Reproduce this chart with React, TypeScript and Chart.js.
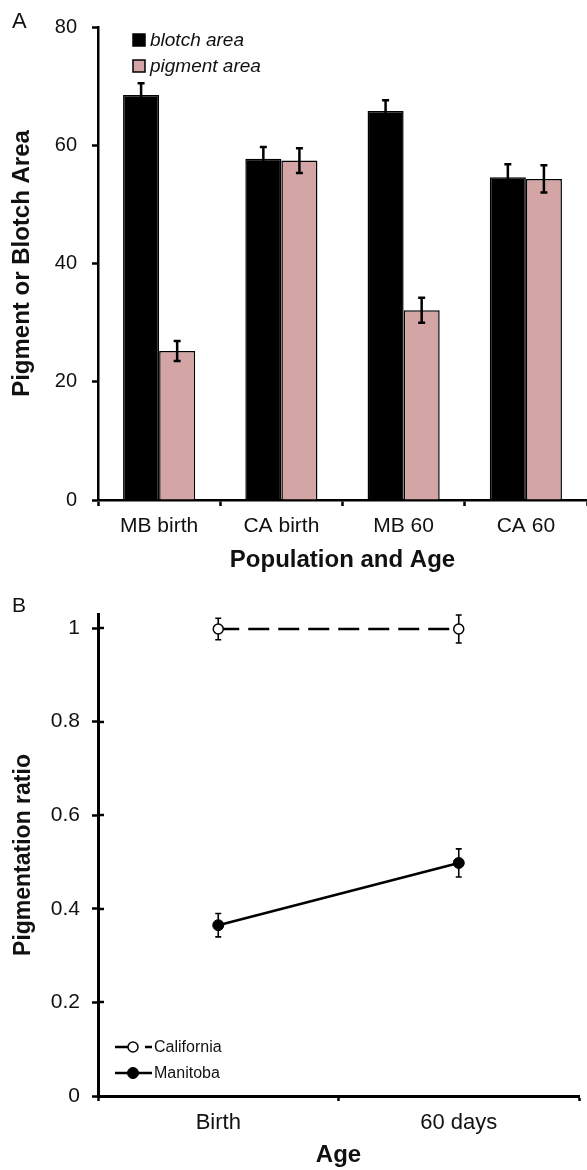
import React, { useEffect, useRef } from "react";
import { Chart, registerables } from "chart.js";

Chart.register(...registerables);

// ---------- Data ----------
const categoriesA = ["MB birth", "CA birth", "MB 60", "CA 60"];
const blotchArea = [68.5, 57.7, 65.8, 54.6];
const blotchErr = [2.0, 2.0, 1.8, 2.2];
const pigmentArea = [25.2, 57.4, 32.1, 54.3];
const pigmentErr = [1.7, 2.1, 2.1, 2.3];
const yTicksA = [0, 20, 40, 60, 80];

const categoriesB = ["Birth", "60 days"];
const california = [0.998, 0.998];
const californiaErr = [0.023, 0.03];
const manitoba = [0.365, 0.498];
const manitobaErr = [0.025, 0.03];
const yTicksB = [0, 0.2, 0.4, 0.6, 0.8, 1];

const FONT = "'Liberation Sans', Arial, Helvetica, sans-serif";
const INK = "#111";

// ---------- Plugins ----------
const errorBars = {
  id: "errorBars",
  beforeDatasetsDraw(chart: any, _a: any, opts: any) {
    if (!opts.behind) return;
    drawErrors(chart, opts);
  },
  afterDatasetsDraw(chart: any, _a: any, opts: any) {
    if (opts.behind) return;
    drawErrors(chart, opts);
  },
};

function drawErrors(chart: any, opts: any) {
  const ctx = chart.ctx;
  const yScale = chart.scales.y;
  chart.data.datasets.forEach((ds: any, i: number) => {
    const errs = ds.errors;
    if (!errs) return;
    const meta = chart.getDatasetMeta(i);
    meta.data.forEach((el: any, j: number) => {
      const v = ds.data[j];
      const e = errs[j];
      const x = el.x;
      const yt = yScale.getPixelForValue(v + e);
      const yb = yScale.getPixelForValue(v - e);
      ctx.save();
      ctx.strokeStyle = "#000";
      ctx.lineWidth = opts.width;
      ctx.beginPath();
      ctx.moveTo(x, yt);
      ctx.lineTo(x, yb);
      ctx.moveTo(x - opts.cap, yt);
      ctx.lineTo(x + opts.cap, yt);
      ctx.moveTo(x - opts.cap, yb);
      ctx.lineTo(x + opts.cap, yb);
      ctx.stroke();
      ctx.restore();
    });
  });
}

const boxLegend = {
  id: "boxLegend",
  afterDraw(chart: any, _a: any, opts: any) {
    const { ctx, chartArea } = chart;
    chart.data.datasets.forEach((ds: any, i: number) => {
      const cy = chartArea.top + opts.top + i * opts.rowGap;
      const bx = chartArea.left + opts.left;
      ctx.save();
      ctx.fillStyle = ds.backgroundColor;
      ctx.fillRect(bx, cy - opts.box / 2, opts.box, opts.box);
      ctx.strokeStyle = "#000";
      ctx.lineWidth = 1.5;
      ctx.strokeRect(bx, cy - opts.box / 2, opts.box, opts.box);
      ctx.font = `italic ${opts.fontSize}px ${FONT}`;
      ctx.fillStyle = INK;
      ctx.textBaseline = "middle";
      ctx.textAlign = "left";
      ctx.fillText(ds.label, bx + opts.box + 5, cy + 1);
      ctx.restore();
    });
  },
};

const lineLegend = {
  id: "lineLegend",
  afterDraw(chart: any, _a: any, opts: any) {
    const { ctx, chartArea } = chart;
    chart.data.datasets.forEach((ds: any, i: number) => {
      const cy = chartArea.bottom - opts.bottom + i * opts.rowGap;
      const x0 = chartArea.left + opts.left;
      const x1 = x0 + opts.lineLen;
      const cx = x0 + opts.markerAt;
      ctx.save();
      ctx.strokeStyle = ds.borderColor;
      ctx.lineWidth = ds.borderWidth;
      ctx.setLineDash(ds.borderDash || []);
      ctx.beginPath();
      ctx.moveTo(x0, cy);
      ctx.lineTo(x1, cy);
      ctx.stroke();
      ctx.setLineDash([]);
      ctx.beginPath();
      ctx.arc(cx, cy, ds.pointRadius, 0, Math.PI * 2);
      ctx.fillStyle = ds.pointBackgroundColor;
      ctx.fill();
      ctx.lineWidth = ds.pointBorderWidth;
      ctx.strokeStyle = ds.pointBorderColor;
      ctx.stroke();
      ctx.font = `${opts.fontSize}px ${FONT}`;
      ctx.fillStyle = INK;
      ctx.textBaseline = "middle";
      ctx.textAlign = "left";
      ctx.fillText(ds.label, x1 + 2, cy + 0.5);
      ctx.restore();
    });
  },
};

const innerTicks = {
  id: "innerTicks",
  afterDraw(chart: any, _a: any, opts: any) {
    const s = chart.scales.y;
    const ctx = chart.ctx;
    ctx.save();
    ctx.strokeStyle = "#000";
    ctx.lineWidth = opts.width;
    s.ticks.forEach((t: any) => {
      if (t.value === 0) return;
      const y = Math.round(s.getPixelForValue(t.value));
      ctx.beginPath();
      ctx.moveTo(s.right, y);
      ctx.lineTo(s.right + opts.length, y);
      ctx.stroke();
    });
    ctx.restore();
  },
};

function fmt(v: number) {
  return String(Number(Number(v).toFixed(2)));
}

export default function App() {
  const refA = useRef<HTMLCanvasElement>(null);
  const refB = useRef<HTMLCanvasElement>(null);

  useEffect(() => {
    Chart.defaults.font.family = FONT;
    Chart.defaults.color = INK;

    const chartA = new Chart(refA.current!, {
      type: "bar",
      data: {
        labels: categoriesA,
        datasets: [
          {
            label: "blotch area",
            data: blotchArea,
            errors: blotchErr,
            backgroundColor: "#000000",
            borderColor: "#000000",
            borderWidth: 1.5,
          } as any,
          {
            label: "pigment area",
            data: pigmentArea,
            errors: pigmentErr,
            backgroundColor: "#d3a6a5",
            borderColor: "#000000",
            borderWidth: 1.5,
          } as any,
        ],
      },
      options: {
        animation: false,
        responsive: false,
        layout: { padding: { top: 17, right: 0, left: 0, bottom: 0 } },
        datasets: { bar: { categoryPercentage: 0.59, barPercentage: 1 } },
        plugins: {
          legend: { display: false },
          tooltip: { enabled: false },
          errorBars: { width: 2.5, cap: 3.5, behind: false },
          boxLegend: { top: 13, rowGap: 26, left: 35, box: 12, fontSize: 19 },
        } as any,
        scales: {
          x: {
            offset: true,
            grid: {
              display: true,
              drawOnChartArea: false,
              drawTicks: true,
              tickLength: 6,
              tickWidth: 2.5,
              tickColor: "#000",
              offset: true,
            },
            border: { display: true, color: "#000", width: 2.5 },
            ticks: { font: { size: 21 }, color: INK, padding: 8 },
            title: {
              display: true,
              text: "Population and Age",
              font: { size: 24, weight: "bold", lineHeight: 1 },
              color: INK,
              padding: { top: 0, bottom: 8 },
            },
            afterFit: (s: any) => {
              s.height = 80;
            },
          },
          y: {
            min: 0,
            max: 80,
            afterBuildTicks: (axis: any) => {
              axis.ticks = yTicksA.map((v) => ({ value: v }));
            },
            grid: {
              display: true,
              drawOnChartArea: false,
              drawTicks: true,
              tickLength: 6,
              tickWidth: 2.5,
              tickColor: "#000",
            },
            border: { display: true, color: "#000", width: 2.5 },
            ticks: { font: { size: 20 }, color: INK, padding: 15, callback: (v: any) => fmt(v) },
            title: {
              display: true,
              text: "Pigment or Blotch Area",
              font: { size: 24, weight: "bold", lineHeight: 1 },
              color: INK,
              padding: { top: 10, bottom: 0 },
            },
            afterFit: (s: any) => {
              s.width = 98;
            },
          },
        },
      },
      plugins: [errorBars, boxLegend],
    } as any);

    const chartB = new Chart(refB.current!, {
      type: "line",
      data: {
        labels: categoriesB,
        datasets: [
          {
            label: "California",
            data: california,
            errors: californiaErr,
            borderColor: "#000",
            borderWidth: 2.5,
            borderDash: [21, 9],
            pointRadius: 5,
            pointBackgroundColor: "#fff",
            pointBorderColor: "#000",
            pointBorderWidth: 1.5,
            fill: false,
            tension: 0,
          } as any,
          {
            label: "Manitoba",
            data: manitoba,
            errors: manitobaErr,
            borderColor: "#000",
            borderWidth: 2.5,
            pointRadius: 5.5,
            pointBackgroundColor: "#000",
            pointBorderColor: "#000",
            pointBorderWidth: 1,
            fill: false,
            tension: 0,
          } as any,
        ],
      },
      options: {
        animation: false,
        responsive: false,
        layout: { padding: { top: 34, right: 8, left: 0, bottom: 0 } },
        plugins: {
          legend: { display: false },
          tooltip: { enabled: false },
          errorBars: { width: 1.6, cap: 3, behind: true },
          lineLegend: { bottom: 49, rowGap: 26, left: 17, lineLen: 37, markerAt: 18, fontSize: 16 },
          innerTicks: { width: 2.5, length: 6 },
        } as any,
        scales: {
          x: {
            offset: true,
            grid: {
              display: true,
              drawOnChartArea: false,
              drawTicks: true,
              tickLength: 5,
              tickWidth: 2.5,
              tickColor: "#000",
              offset: true,
            },
            border: { display: true, color: "#000", width: 3 },
            ticks: { font: { size: 22 }, color: INK, padding: 9 },
            title: {
              display: true,
              text: "Age",
              font: { size: 24, weight: "bold", lineHeight: 1 },
              color: INK,
              padding: { top: 0, bottom: 3 },
            },
            afterFit: (s: any) => {
              s.height = 74;
            },
          },
          y: {
            min: 0,
            max: 1.03,
            ticks: {
              font: { size: 21 },
              color: INK,
              padding: 12,
              callback: (v: any) => fmt(v),
            },
            afterBuildTicks: (axis: any) => {
              axis.ticks = yTicksB.map((v) => ({ value: v }));
            },
            grid: {
              display: true,
              drawOnChartArea: false,
              drawTicks: true,
              tickLength: 6,
              tickWidth: 2.5,
              tickColor: "#000",
            },
            border: { display: true, color: "#000", width: 3 },
            title: {
              display: true,
              text: "Pigmentation ratio",
              font: { size: 23, weight: "bold", lineHeight: 1 },
              color: INK,
              padding: { top: 12, bottom: 0 },
            },
            afterFit: (s: any) => {
              s.width = 98;
            },
          },
        },
      },
      plugins: [errorBars, lineLegend, innerTicks],
    } as any);

    return () => {
      chartA.destroy();
      chartB.destroy();
    };
  }, []);

  const letter: React.CSSProperties = {
    position: "absolute",
    left: 12,
    fontFamily: FONT,
    color: INK,
    margin: 0,
  };

  return (
    <div style={{ position: "absolute", left: 0, top: 0, width: 587, height: 1170, background: "#fff" }}>
      <canvas
        ref={refA}
        width={587}
        height={580}
        style={{ position: "absolute", left: 0, top: 0, display: "block" }}
      />
      <canvas
        ref={refB}
        width={587}
        height={590}
        style={{ position: "absolute", left: 0, top: 580, display: "block" }}
      />
      <div style={{ ...letter, top: 10, fontSize: 22, lineHeight: "22px" }}>A</div>
      <div style={{ ...letter, top: 594, fontSize: 21, lineHeight: "21px" }}>B</div>
    </div>
  );
}
